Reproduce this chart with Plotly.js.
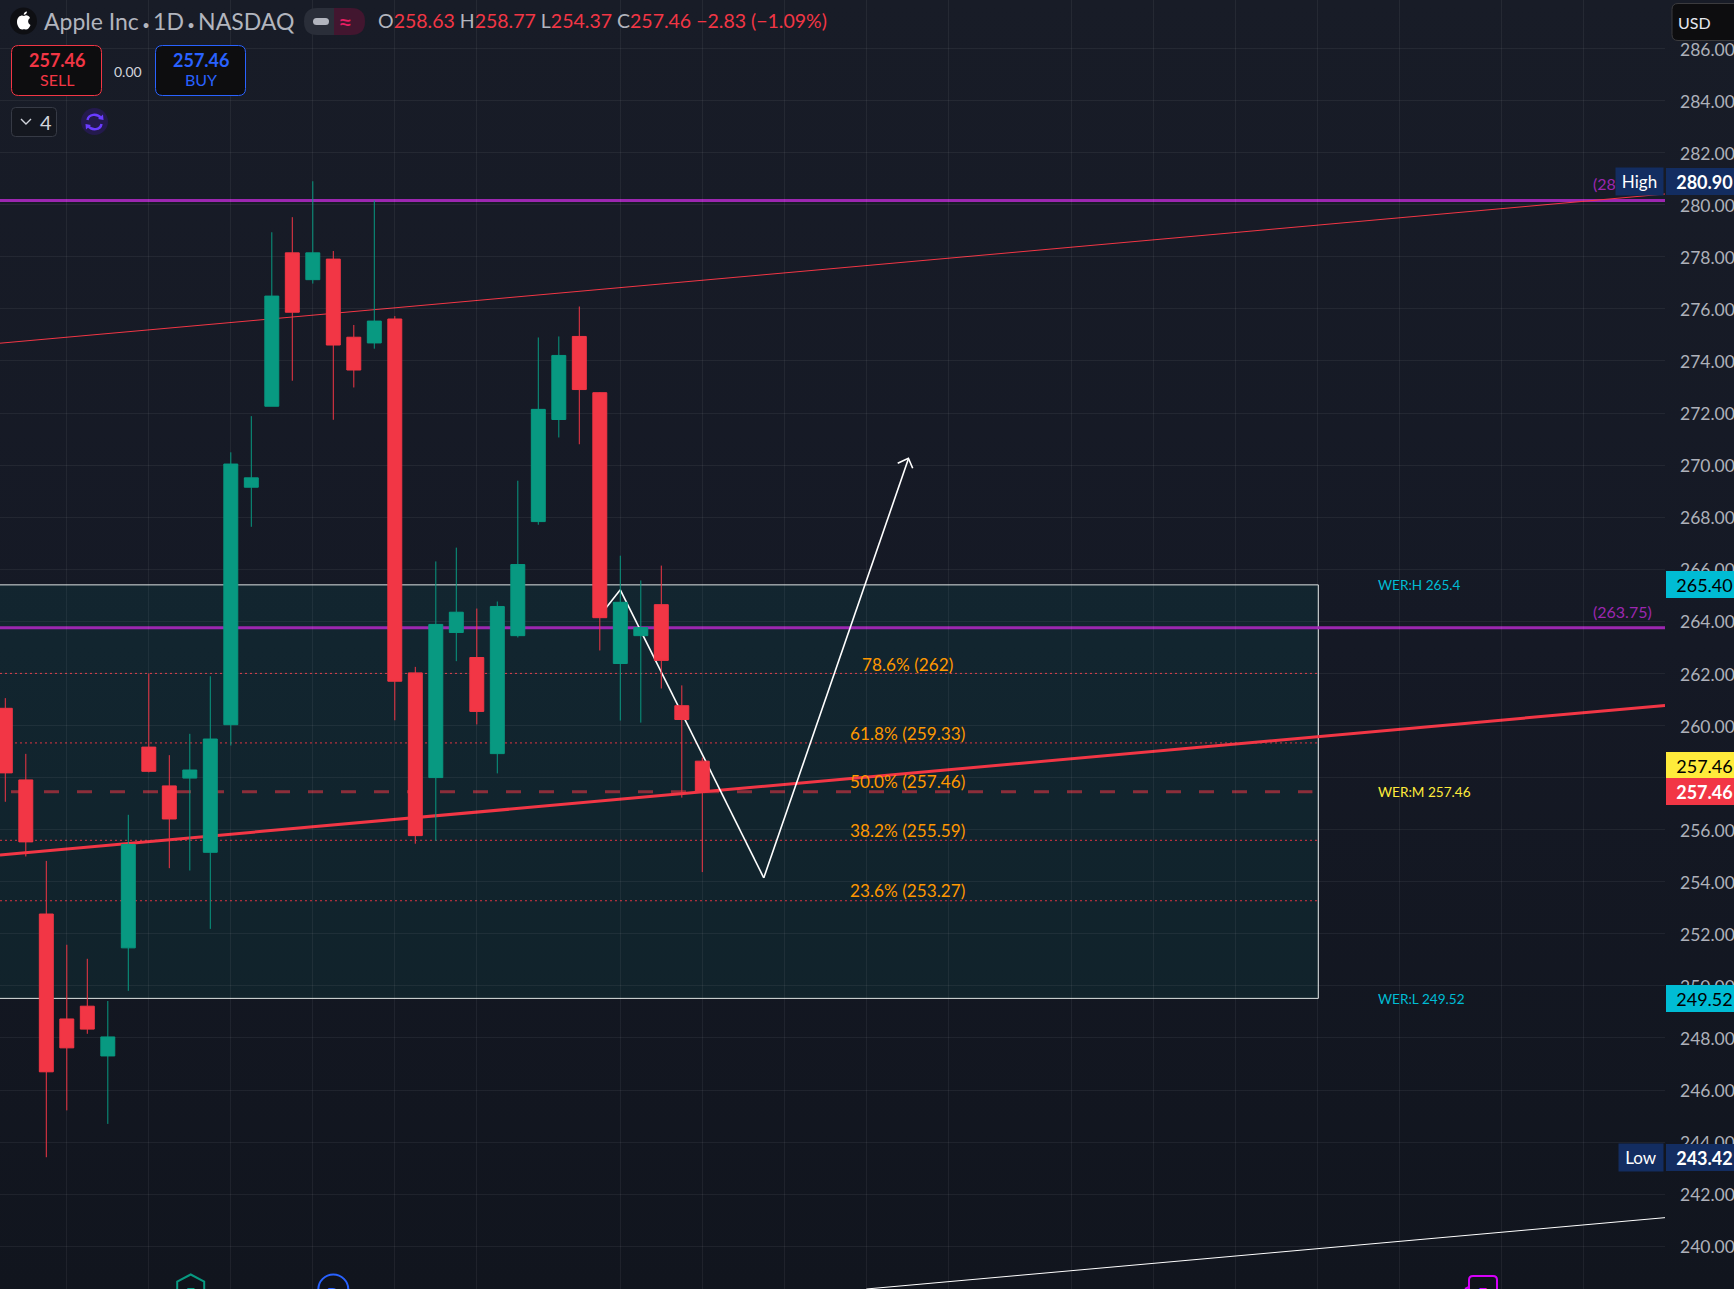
<!DOCTYPE html>
<html>
<head>
<meta charset="utf-8">
<script src="https://cdn.plot.ly/plotly-3.0.1.min.js"></script>
<style>
html,body{margin:0;padding:0;width:1734px;height:1289px;overflow:hidden;background:linear-gradient(180deg,#181c27 0%,#151925 50%,#11151e 100%);}
#chart{width:1734px;height:1289px;}
</style>
</head>
<body>
<div id="chart"></div>
<script>
// ---- candle data ----
const opens  = [260.66,257.91,252.76,248.73,249.22,247.31,251.46,259.17,257.68,257.98,255.13,260.03,269.15,272.26,278.15,277.12,277.91,274.91,274.69,275.61,262.02,258.00,263.57,262.61,258.92,263.45,267.83,271.75,274.94,272.78,262.38,263.45,264.64,260.76,258.63];
const highs  = [261.05,258.91,254.80,251.58,251.04,249.42,256.57,262.00,258.86,259.68,261.89,270.49,271.88,278.94,279.52,280.90,278.22,275.38,280.16,275.72,262.25,266.30,266.83,264.49,264.76,269.40,274.90,274.94,276.09,272.80,266.52,265.57,266.14,261.54,258.77];
const lows   = [257.07,254.97,243.42,245.22,248.16,244.70,249.81,258.20,254.52,254.43,252.19,259.23,267.63,272.26,273.24,276.97,271.74,272.98,274.47,260.20,255.46,255.57,262.47,260.04,258.16,263.38,267.71,271.06,270.80,262.88,260.19,260.11,261.42,257.23,254.37];
const closes = [258.18,255.53,246.70,247.62,248.34,248.04,255.43,258.24,256.41,258.29,259.48,270.04,269.51,276.49,275.87,278.15,274.61,273.65,275.53,261.70,255.77,263.88,264.35,260.54,264.57,266.18,272.14,274.21,272.90,264.14,264.73,263.76,262.50,260.23,257.46];
const barIndex = opens.map((_, i) => i);
const gridX = [3,7,11,15,19,23,30,34,38,42,46,52,56,60,64,68,73,77];
const yTicks = [240,242,244,246,248,250,252,254,256,258,260,262,264,266,268,270,272,274,276,278,280,282,284,286];

// ---- drawn levels ----
const xLeft = -0.2585, xRight = 80.96;
const boxTop = 265.40, boxBottom = 249.52, boxRightX = 64.05;
const purpleLevels = [280.16, 263.75];
const fibLevels = [262, 259.33, 255.59, 253.27];
const midLevel = 257.46, midStartX = 0.278;
const upperChannelY = [274.68, 280.41];
const middleChannelY = [255.03, 260.77];
const lowerChannelX = [42, xRight];
const lowerChannelY = [238.36, 241.10];
const zigX = [29, 30, 37, 44.05];
const zigY = [264.21, 265.21, 254.15, 270.23];

// ---- text ----
const fibLabels = ["78.6% (262)", "61.8% (259.33)", "50.0% (257.46)", "38.2% (255.59)", "23.6% (253.27)"];
const fibLabelY = [664, 733, 781, 830, 890];

const W = 1734, H = 1289, plotW = 1665;
const px = x => x / plotW;
const py = y => 1 - y / H;
const RED = '#f23645', GREEN = '#089981', CYAN = '#00bcd4', YEL = '#ffeb3b', PURPLE = '#9c27b0', ORANGE = '#ff9800', NAVY = '#132d61', BLUE = '#2962ff';
const FONT = 'Lato, "Open Sans", sans-serif';

function roundRect(x0, y0, x1, y1, r) {
  return `M${px(x0+r)},${py(y0)} L${px(x1-r)},${py(y0)} Q${px(x1)},${py(y0)} ${px(x1)},${py(y0+r)} L${px(x1)},${py(y1-r)} Q${px(x1)},${py(y1)} ${px(x1-r)},${py(y1)} L${px(x0+r)},${py(y1)} Q${px(x0)},${py(y1)} ${px(x0)},${py(y1-r)} L${px(x0)},${py(y0+r)} Q${px(x0)},${py(y0)} ${px(x0+r)},${py(y0)} Z`;
}
function polyPx(pts, close) {
  return pts.map((p, i) => (i ? 'L' : 'M') + px(p[0]) + ',' + py(p[1])).join(' ') + (close ? ' Z' : '');
}
function uiShape(path, fill, lineColor, lineWidth) {
  return {type:'path', layer:'above', xref:'paper', yref:'paper', path, fillcolor:fill||'rgba(0,0,0,0)',
          line:{color:lineColor||'rgba(0,0,0,0)', width:lineWidth===undefined?1:lineWidth}};
}
function dataLine(x0, x1, y0, y1, color, width, dash) {
  return {type:'line', layer:'below', xref:'x', yref:'y', x0, x1, y0, y1, line:{color, width, dash:dash||'solid'}};
}

const shapes = [];
shapes.push({type:'rect', layer:'below', xref:'x', yref:'y', x0:xLeft-2, x1:boxRightX, y0:boxBottom, y1:boxTop,
             fillcolor:'rgba(0,150,136,0.10)', line:{color:'#dfe3e3', width:1}});
fibLevels.forEach(l => shapes.push(dataLine(xLeft, boxRightX, l, l, 'rgba(242,54,69,0.9)', 1, '2px,3px')));
shapes.push(dataLine(midStartX, boxRightX - 0.29, midLevel, midLevel, 'rgba(242,54,69,0.55)', 3, '15px,18px'));
purpleLevels.forEach(l => shapes.push(dataLine(xLeft, xRight, l, l, PURPLE, 3)));
shapes.push(dataLine(xLeft, xRight, upperChannelY[0], upperChannelY[1], RED, 1));
shapes.push(dataLine(xLeft, xRight, middleChannelY[0], middleChannelY[1], RED, 3));
shapes.push(dataLine(lowerChannelX[0], lowerChannelX[1], lowerChannelY[0], lowerChannelY[1], '#ffffff', 1));
for (let i = 0; i < zigX.length - 1; i++) shapes.push(dataLine(zigX[i], zigX[i+1], zigY[i], zigY[i+1], '#ffffff', 1.6));
// arrow head
shapes.push(uiShape(polyPx([[897.7,463.3],[908.4,458.3],[912.7,468.3]]), null, '#ffffff', 1.6));
shapes[shapes.length-1].layer = 'below';

// header UI
shapes.push({type:'circle', layer:'above', xref:'paper', yref:'paper', x0:px(10), x1:px(37), y0:py(34.5), y1:py(7.5), fillcolor:'#0e0f13', line:{width:0}});
shapes.push(uiShape(`M${px(17)},${py(22)} C${px(17)},${py(16)} ${px(22)},${py(14.5)} ${px(24)},${py(16)} C${px(26)},${py(14.5)} ${px(29)},${py(15.5)} ${px(30)},${py(18)} C${px(27.5)},${py(19.5)} ${px(27.5)},${py(23.5)} ${px(30.5)},${py(25)} C${px(29.5)},${py(28)} ${px(27.5)},${py(30)} ${px(25.5)},${py(29.5)} C${px(24.5)},${py(29)} ${px(23.5)},${py(29)} ${px(22.5)},${py(29.5)} C${px(20)},${py(30)} ${px(17)},${py(26)} ${px(17)},${py(22)} Z M${px(23.7)},${py(14.8)} C${px(23.7)},${py(13)} ${px(25)},${py(11.5)} ${px(27)},${py(11.5)} C${px(27)},${py(13.5)} ${px(25.5)},${py(15)} ${px(23.7)},${py(14.8)} Z`, '#ffffff', null, 0));
// status pill
shapes.push(uiShape(`M${px(334)},${py(8)} L${px(317)},${py(8)} Q${px(304)},${py(8)} ${px(304)},${py(21.5)} Q${px(304)},${py(35)} ${px(317)},${py(35)} L${px(334)},${py(35)} Z`, '#2a2e39', null, 0));
shapes.push(uiShape(`M${px(334)},${py(8)} L${px(351)},${py(8)} Q${px(365)},${py(8)} ${px(365)},${py(21.5)} Q${px(365)},${py(35)} ${px(351)},${py(35)} L${px(334)},${py(35)} Z`, '#42162f', null, 0));
shapes.push(uiShape(roundRect(313, 18, 329, 25, 3.5), '#b2b5be', null, 0));
// buttons
shapes.push(uiShape(roundRect(11.5, 45.5, 101.5, 95.5, 7), '#0d0d0f', RED, 1));
shapes.push(uiShape(roundRect(155.5, 45.5, 245.5, 95.5, 7), '#0d0d0f', BLUE, 1));
shapes.push(uiShape(roundRect(11.5, 107.5, 56.5, 136.5, 4), '#14171f', '#363a45', 1));
shapes.push(uiShape(polyPx([[21,119],[26,124],[31,119]]), null, '#d1d4dc', 1.4));
// sync icon
shapes.push({type:'circle', layer:'above', xref:'paper', yref:'paper', x0:px(81), x1:px(108), y0:py(135), y1:py(108), fillcolor:'#241a4d', line:{width:0}});
shapes.push(uiShape(`M${px(87.5)},${py(120)} C${px(88.5)},${py(114)} ${px(97)},${py(113)} ${px(101)},${py(118)} M${px(101.5)},${py(124)} C${px(100.5)},${py(130)} ${px(92)},${py(131)} ${px(88)},${py(126)}`, null, '#6a3cff', 2.4));
shapes.push(uiShape(polyPx([[98,119],[103.5,120],[103,114.5]], true), '#6a3cff', null, 0));
shapes.push(uiShape(polyPx([[91,125],[85.5,124],[86,129.5]], true), '#6a3cff', null, 0));
// USD box
shapes.push(uiShape(roundRect(1672, 3.5, 1750, 40.5, 6), '#0d0d0f', '#3b3b3e', 1));
// bottom event markers
shapes.push(uiShape(polyPx([[190.7,1274.5],[204.2,1281.5],[204.2,1300],[177.2,1300],[177.2,1281.5]], true), '#10131b', GREEN, 2));
shapes.push({type:'circle', layer:'above', xref:'paper', yref:'paper', x0:px(318.3), x1:px(348.3), y0:py(1304.5), y1:py(1274.5), fillcolor:'#10131b', line:{color:BLUE, width:2}});
shapes.push(uiShape(roundRect(1469, 1276, 1497, 1305, 4), '#10131b', '#d500f9', 2));
shapes.push(uiShape(polyPx([[1469,1287],[1465,1289]]), null, '#d500f9', 2));

const annotations = [];
function txt(x, y, text, size, color, anchor, extra) {
  annotations.push(Object.assign({xref:'paper', yref:'paper', x:px(x), y:py(y), text, showarrow:false,
    xanchor:anchor||'left', yanchor:'middle', borderpad:0, font:{family:FONT, size, color}}, extra||{}));
}
function tag(price, text, bg, color, extra) {
  annotations.push(Object.assign({xref:'paper', yref:'y', x:W/plotW, y:price,
    text:text + '<span style="font-size:5px">&nbsp;</span>', showarrow:false,
    xanchor:'right', yanchor:'middle', width:68, height:27, bgcolor:bg, borderpad:0, borderwidth:0, align:'right',
    font:{family:FONT, size:18, color}}, extra||{}));
}
// header text
const dot = '<span style="font-size:13px"> • </span>';
txt(43, 21, `Apple Inc${dot}1D${dot}NASDAQ`, 23, '#b2b5be');
const hd = (k, v) => `<span style="color:#b2b5be">${k}</span><span style="color:${RED}">${v}</span>`;
txt(377, 21, `${hd('O','258.63')} ${hd('H','258.77')} ${hd('L','254.37')} ${hd('C','257.46')} <span style="color:${RED}">−2.83 (−1.09%)</span>`, 19.5, RED);
txt(345, 21, '≈', 25, '#e91e63', 'center');
txt(56.5, 60, '<b>257.46</b>', 18, RED, 'center');
txt(56.5, 80, 'SELL', 16, RED, 'center');
txt(128, 71, '0.00', 14, '#d1d4dc', 'center');
txt(200.5, 60, '<b>257.46</b>', 18, BLUE, 'center');
txt(200.5, 80, 'BUY', 16, BLUE, 'center');
txt(45.5, 122, '4', 20, '#d1d4dc', 'center');
txt(1677, 22, 'USD', 16, '#e6e8ee');
// fib labels
fibLabels.forEach((t, i) => txt(907.5, fibLabelY[i], t, 17.2, ORANGE, 'center'));
// WER labels
txt(1377, 584.6, 'WER:H 265.4', 13.6, CYAN);
txt(1377, 792, 'WER:M 257.46', 13.6, YEL);
txt(1377, 998.6, 'WER:L 249.52', 13.6, CYAN);
txt(1653, 611.5, '(263.75)', 16, PURPLE, 'right');
txt(1653, 183, '(280.16)', 16, PURPLE, 'right');
// price tags
tag(265.40, '265.40', CYAN, '#000000');
tag(257.46, '257.46', YEL, '#000000', {yshift:26});
tag(257.46, '<b>257.46</b>', RED, '#ffffff');
tag(249.52, '249.52', CYAN, '#000000');
tag(280.90, '<b>280.90</b>', NAVY, '#ffffff');
tag(243.42, '<b>243.42</b>', NAVY, '#ffffff');
annotations.push({xref:'paper', yref:'y', x:1664/plotW, y:280.90, text:'High', showarrow:false, xanchor:'right', yanchor:'middle', width:47, height:27, bgcolor:NAVY, borderpad:0, font:{family:FONT, size:17, color:'#ffffff'}});
annotations.push({xref:'paper', yref:'y', x:1664/plotW, y:243.42, text:'Low', showarrow:false, xanchor:'right', yanchor:'middle', width:44, height:27, bgcolor:NAVY, borderpad:0, font:{family:FONT, size:17, color:'#ffffff'}});
// event letters
txt(190.7, 1292, 'E', 16, GREEN, 'center');
txt(333.3, 1292, 'D', 16, BLUE, 'center');
txt(1482.7, 1292, 'E', 16, '#d500f9', 'center');

const trace = {
  type:'candlestick', x:barIndex, open:opens, high:highs, low:lows, close:closes,
  increasing:{line:{color:GREEN, width:1}, fillcolor:GREEN},
  decreasing:{line:{color:RED, width:1}, fillcolor:RED},
  whiskerwidth:0, hoverinfo:'skip', showlegend:false
};
const layout = {
  width:W, height:H, margin:{l:0, r:W-plotW, t:0, b:0, pad:0}, autosize:false,
  paper_bgcolor:'rgba(0,0,0,0)', plot_bgcolor:'rgba(0,0,0,0)', showlegend:false,
  boxmode:'overlay', boxgap:0.32, boxgroupgap:0, dragmode:false,
  xaxis:{type:'linear', range:[xLeft, xRight], rangeslider:{visible:false}, tickmode:'array', tickvals:gridX,
         showticklabels:false, ticks:'', showgrid:true, gridcolor:'rgba(255,255,255,0.06)', gridwidth:1, zeroline:false, showline:false, fixedrange:true},
  yaxis:{side:'right', range:[238.36, 287.86], tickmode:'array', tickvals:yTicks, ticktext:yTicks.map(v => v.toFixed(2)),
         ticks:'', ticklen:0, ticklabelstandoff:14, ticklabelshift:1, tickfont:{family:FONT, size:17.5, color:'#aeb1ba'},
         showgrid:true, gridcolor:'rgba(255,255,255,0.06)', gridwidth:1, zeroline:false, showline:false, fixedrange:true, automargin:false},
  shapes, annotations
};
Plotly.newPlot('chart', [trace], layout, {displayModeBar:false, staticPlot:true, responsive:false});
</script>
</body>
</html>
